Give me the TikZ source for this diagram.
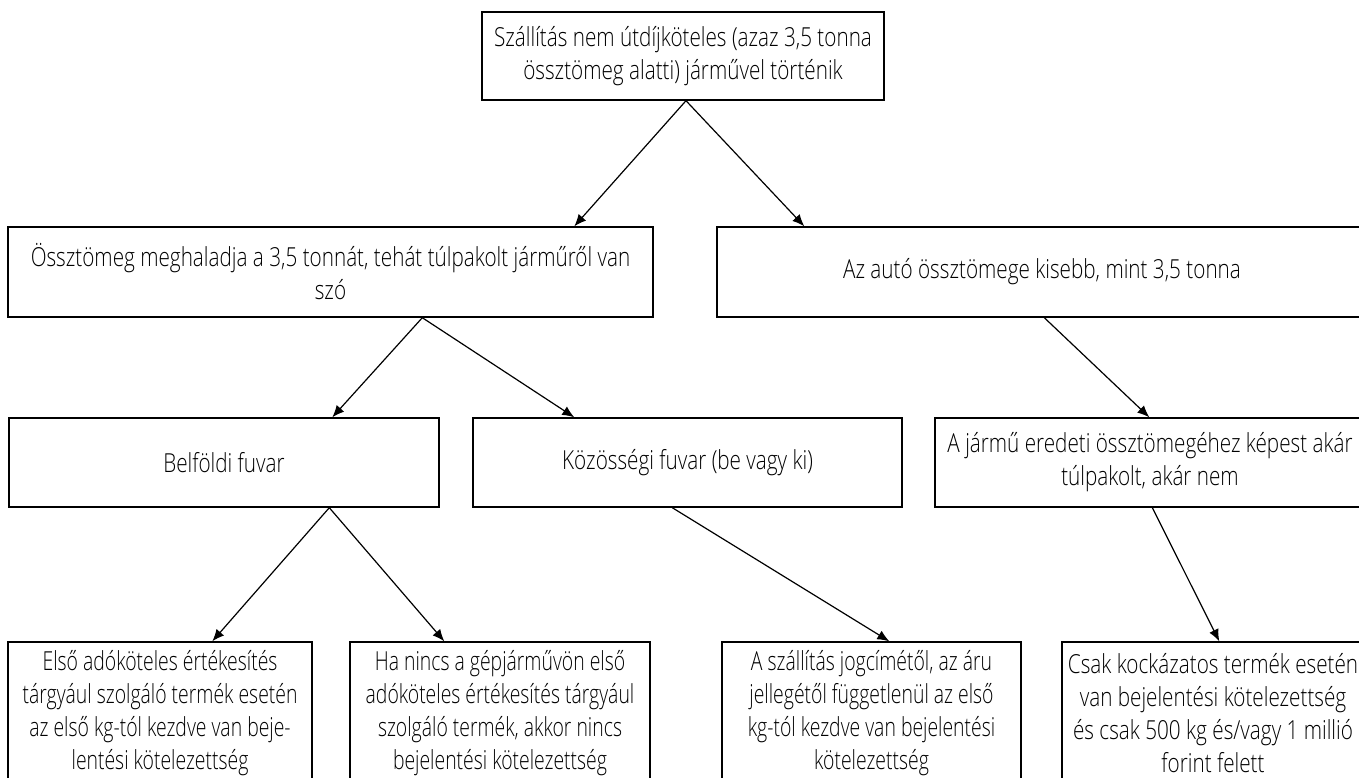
\documentclass[tikz,border=0pt]{standalone}
\usepackage{fontspec}
\IfFontExistsTF{Open Sans Light}
  {\setmainfont{Open Sans Light}[FakeStretch=0.79]
   \newfontfamily\narrowfont{Open Sans Light}[FakeStretch=0.74]}
  {\setmainfont{Open Sans}[FakeStretch=0.79]
   \newfontfamily\narrowfont{Open Sans}[FakeStretch=0.74]}
\usetikzlibrary{arrows.meta,calc}

\tikzset{
  box/.style={draw,line width=0.7pt,inner sep=0pt,align=center,
    font=\fontsize{13.1pt}{16.5pt}\selectfont},
  leafbox/.style={box,minimum height=71pt,
    font=\narrowfont\fontsize{13.1pt}{16.5pt}\selectfont},
  arr/.style={-{Latex[length=6pt,width=5pt]},line width=0.6pt}
}

\begin{document}
\begin{tikzpicture}[x=0.5pt,y=-0.5pt]
  \fill[white] (0,0) rectangle (1359,777);
  \useasboundingbox (0,0) rectangle (1359,777);

  \node[box,minimum width=201pt,minimum height=44pt] (top) at (683,56)
    {Szállítás nem útdíjköteles (azaz 3,5 tonna\\össztömeg alatti) járművel történik};

  \node[box,minimum width=322.5pt,minimum height=45pt] (l2a) at (330.5,272)
    {Össztömeg meghaladja a 3,5 tonnát, tehát túlpakolt járműről van\\szó};
  \node[box,minimum width=325pt,minimum height=45pt] (l2b) at (1042,272)
    {Az autó össztömege kisebb, mint 3,5 tonna};

  \node[box,minimum width=215pt,minimum height=44.5pt] (l3a) at (224,462.5)
    {Belföldi fuvar};
  \node[box,minimum width=214.5pt,minimum height=44.5pt] (l3b) at (687.5,462.5)
    {Közösségi fuvar (be vagy ki)};
  \node[box,minimum width=215pt,minimum height=44.5pt] (l3c) at (1150,462.5)
    {A jármű eredeti össztömegéhez képest akár\\túlpakolt, akár nem};

  \node[leafbox,minimum width=152pt] (b1) at (160,713)
    {Első adóköteles értékesítés\\tárgyául szolgáló termék esetén\\az első kg-tól kezdve van beje-\\lentési kötelezettség};
  \node[leafbox,minimum width=150pt] (b2) at (500,713)
    {Ha nincs a gépjárművön első\\adóköteles értékesítés tárgyául\\szolgáló termék, akkor nincs\\bejelentési kötelezettség};
  \node[leafbox,minimum width=149.5pt] (b3) at (871.5,713)
    {A szállítás jogcímétől, az áru\\jellegétől függetlenül az első\\kg-tól kezdve van bejelentési\\kötelezettség};
  \node[leafbox,minimum width=151pt,font=\rmfamily\fontsize{13.1pt}{16.5pt}\selectfont] (b4) at (1213,713)
    {Csak kockázatos termék esetén\\van bejelentési kötelezettség\\és csak 500 kg és/vagy 1 millió\\forint felett};

  % connectors
  \draw[arr] ($(top.south)+(3,0)$) -- ($(l2a.north west)+(567,0)$);
  \draw[arr] ($(top.south)+(3,0)$) -- ($(l2b.north west)+(88,0)$);
  \draw[arr] ($(l2a.south west)+(415,0)$) -- ($(l3a.north west)+(324,0)$);
  \draw[arr] ($(l2a.south west)+(415,0)$) -- ($(l3b.north west)+(102,0)$);
  \draw[arr] ($(l2b.south west)+(328,0)$) -- ($(l3c.north west)+(215,0)$);
  \draw[arr] ($(l3a.south west)+(321,0)$) -- ($(b1.north west)+(205,0)$);
  \draw[arr] ($(l3a.south west)+(321,0)$) -- ($(b2.north west)+(95,0)$);
  \draw[arr] ($(l3b.south west)+(200,0)$) -- ($(b3.north west)+(168,0)$);
  \draw[arr] ($(l3c.south west)+(218,0)$) -- ($(b4.north west)+(158,0)$);
\end{tikzpicture}
\end{document}
